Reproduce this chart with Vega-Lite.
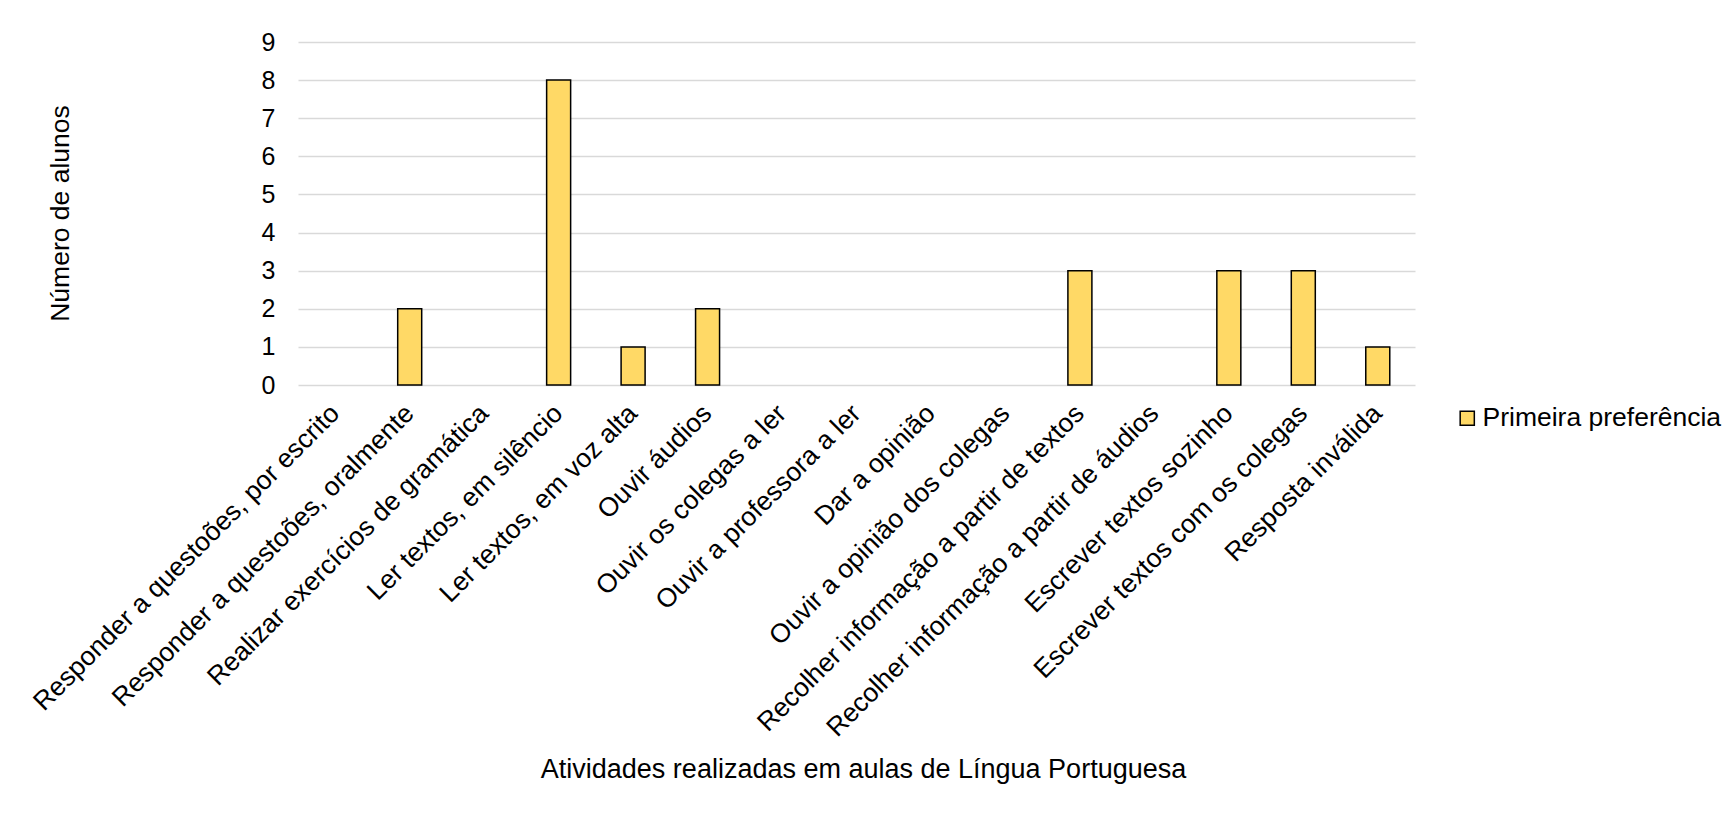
{
  "$schema": "https://vega.github.io/schema/vega-lite/v6.json",
  "autosize": {"type": "none"},
  "padding": {"left": 298, "top": 42, "right": 313, "bottom": 428},
  "width": 1117,
  "height": 343,
  "background": "white",
  "data": {
    "values": [
      {"atividade": "Responder a questoões,  por escrito", "alunos": 0, "serie": "Primeira preferência"},
      {"atividade": "Responder a questoões, oralmente", "alunos": 2, "serie": "Primeira preferência"},
      {"atividade": "Realizar exercícios de gramática", "alunos": 0, "serie": "Primeira preferência"},
      {"atividade": "Ler textos, em silêncio", "alunos": 8, "serie": "Primeira preferência"},
      {"atividade": "Ler textos, em voz alta", "alunos": 1, "serie": "Primeira preferência"},
      {"atividade": "Ouvir áudios", "alunos": 2, "serie": "Primeira preferência"},
      {"atividade": "Ouvir os colegas a ler", "alunos": 0, "serie": "Primeira preferência"},
      {"atividade": "Ouvir a professora a ler", "alunos": 0, "serie": "Primeira preferência"},
      {"atividade": "Dar a opinião", "alunos": 0, "serie": "Primeira preferência"},
      {"atividade": "Ouvir a opinião dos colegas", "alunos": 0, "serie": "Primeira preferência"},
      {"atividade": "Recolher informação a partir de textos", "alunos": 3, "serie": "Primeira preferência"},
      {"atividade": "Recolher informação a partir de áudios", "alunos": 0, "serie": "Primeira preferência"},
      {"atividade": "Escrever textos sozinho", "alunos": 3, "serie": "Primeira preferência"},
      {"atividade": "Escrever textos com os colegas", "alunos": 3, "serie": "Primeira preferência"},
      {"atividade": "Resposta inválida", "alunos": 1, "serie": "Primeira preferência"}
    ]
  },
  "mark": {"type": "bar", "size": 24, "stroke": "black", "strokeWidth": 1.5},
  "encoding": {
    "x": {
      "field": "atividade",
      "type": "nominal",
      "sort": null,
      "scale": {"paddingInner": 0, "paddingOuter": 0},
      "axis": {
        "title": "Atividades realizadas em aulas de Língua Portuguesa",
        "labelAngle": -45,
        "labelAlign": "right",
        "labelBaseline": "middle",
        "labelPadding": 24,
        "labelFontSize": 26.5,
        "labelFont": "Liberation Sans",
        "labelColor": "black",
        "labelLimit": 0,
        "labelOverlap": false,
        "ticks": false,
        "domain": false,
        "titleFont": "Liberation Sans",
        "titleFontSize": 27,
        "titleFontWeight": "normal",
        "titleColor": "black",
        "titleX": 565,
        "titleY": 384,
        "titleAlign": "center",
        "titleBaseline": "middle"
      }
    },
    "y": {
      "field": "alunos",
      "type": "quantitative",
      "scale": {"domain": [0, 9]},
      "axis": {
        "title": "Número de alunos",
        "values": [0, 1, 2, 3, 4, 5, 6, 7, 8, 9],
        "format": "d",
        "ticks": false,
        "domain": false,
        "grid": true,
        "gridColor": "#d9d9d9",
        "gridWidth": 1.5,
        "labelPadding": 23,
        "labelFontSize": 25,
        "labelFont": "Liberation Sans",
        "labelColor": "black",
        "titleFont": "Liberation Sans",
        "titleFontSize": 26.5,
        "titleFontWeight": "normal",
        "titleColor": "black",
        "titleAngle": 270,
        "titleX": -238,
        "titleY": 171,
        "titleAlign": "center",
        "titleBaseline": "middle"
      }
    },
    "color": {
      "field": "serie",
      "type": "nominal",
      "scale": {"range": ["#FFD966"]},
      "legend": {
        "title": null,
        "orient": "none",
        "legendX": 1156,
        "legendY": 363,
        "symbolType": "square",
        "symbolSize": 200,
        "symbolStrokeColor": "black",
        "symbolStrokeWidth": 1.5,
        "labelFont": "Liberation Sans",
        "labelFontSize": 26.5,
        "labelColor": "black",
        "labelOffset": 2,
        "labelLimit": 0
      }
    },
    "strokeOpacity": {
      "condition": {"test": "datum.alunos == 0", "value": 0},
      "value": 1
    }
  },
  "config": {
    "view": {"stroke": null},
    "bar": {"opacity": 1}
  }
}
